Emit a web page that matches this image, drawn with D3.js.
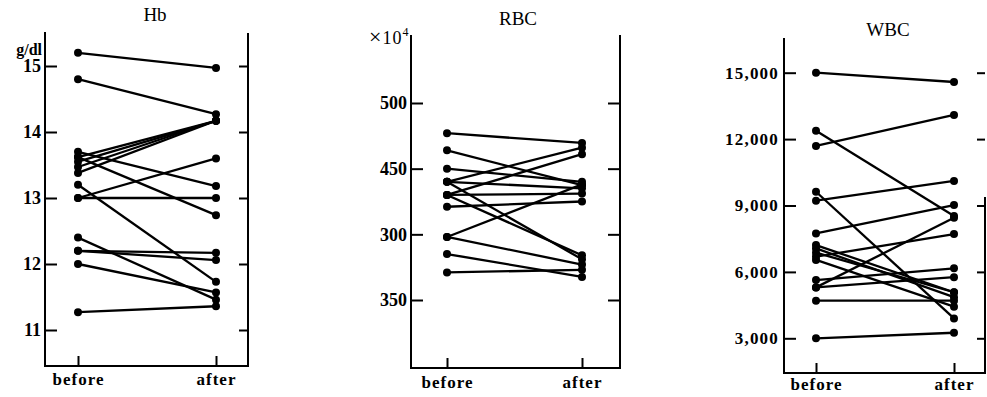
<!DOCTYPE html>
<html>
<head>
<meta charset="utf-8">
<script src="https://cdn.jsdelivr.net/npm/d3@7"></script>
<style>
  html, body { margin: 0; padding: 0; background: #fff; }
  svg { display: block; }
  text { font-family: "Liberation Serif", "DejaVu Serif", serif; fill: #000; }
</style>
</head>
<body>
<svg id="chart" width="987" height="397"></svg>
<script>
// ---------- DATA ----------
const groups = ["before", "after"];

// Hb (g/dl), paired by subject
const hbBefore = [15.2, 14.8, 13.62, 13.55, 13.47, 13.38, 13.7, 13.62, 13.2, 13.0, 13.0, 12.4, 12.2, 12.2, 12.0, 11.27];
const hbAfter  = [14.97, 14.27, 14.17, 14.17, 14.17, 14.17, 13.18, 12.74, 11.73, 13.6, 13.0, 11.46, 12.17, 12.06, 11.57, 11.36];
const hbTicks = [15, 14, 13, 12, 11];
const hbTickLabels = ["15", "14", "13", "12", "11"];

// RBC (x10^4), paired by subject
const rbcBefore = [477, 464, 450, 440, 440, 440, 430, 430, 430, 421, 398, 398, 385, 371];
const rbcAfter  = [469.6, 437.4, 440, 466, 435, 381, 461, 431, 384, 425, 438, 377, 367.6, 373];
const rbcTicks = [500, 450, 400, 350];
const rbcTickLabels = ["500", "450", "300", "350"];

// WBC, paired by subject
const wbcBefore = [15000, 12380, 11690, 9620, 9220, 7740, 7210, 7060, 6870, 6690, 6540, 5630, 5300, 5300, 4700, 3000];
const wbcAfter  = [14580, 8530, 13090, 3900, 10110, 9020, 5080, 4860, 5080, 7710, 4430, 6160, 8450, 5760, 4700, 3250];
const wbcTicks = [15000, 12000, 9000, 6000, 3000];
const wbcTickLabels = ["15,000", "12,000", "9,000", "6,000", "3,000"];

// ---------- LAYOUT ----------
const svg = d3.select("#chart");

function panel(cfg) {
  const g = svg.append("g");
  const x = d3.scalePoint().domain(groups).range([cfg.xBefore, cfg.xAfter]);
  const y = d3.scaleLinear().domain(cfg.domain).range(cfg.yRange);

  // frame lines
  g.append("line").attr("x1", cfg.left).attr("x2", cfg.left).attr("y1", cfg.top).attr("y2", cfg.bottom)
    .attr("stroke", "#000").attr("stroke-width", 2);
  g.append("line").attr("x1", cfg.left - 1).attr("x2", cfg.right + 1).attr("y1", cfg.bottom).attr("y2", cfg.bottom)
    .attr("stroke", "#000").attr("stroke-width", 2);
  g.append("line").attr("x1", cfg.right).attr("x2", cfg.right).attr("y1", cfg.rightTop).attr("y2", cfg.bottom)
    .attr("stroke", "#000").attr("stroke-width", 2);

  // left axis (ticks pointing inward)
  const la = g.append("g").attr("transform", `translate(${cfg.left},0)`)
    .call(d3.axisLeft(y).tickValues(cfg.ticks).tickFormat((d, i) => cfg.tickLabels[i])
      .tickSizeInner(-12).tickSizeOuter(0).tickPadding(cfg.labelPad));
  la.select(".domain").remove();
  la.selectAll(".tick line").attr("stroke", "#000").attr("stroke-width", 2);
  la.selectAll(".tick text").attr("font-family", "Liberation Serif, serif")
    .attr("font-size", cfg.tickFont).attr("font-weight", cfg.tickWeight)
    .attr("letter-spacing", cfg.letterSpacing || 0).attr("fill", "#000");

  // right axis ticks (inward)
  const ra = g.append("g").attr("transform", `translate(${cfg.right},0)`)
    .call(d3.axisLeft(y).tickValues(cfg.ticks).tickFormat("").tickSizeInner(cfg.rightTick).tickSizeOuter(0));
  ra.select(".domain").remove();
  ra.selectAll(".tick line").attr("stroke", "#000").attr("stroke-width", 2);

  // bottom axis
  const ba = g.append("g").attr("transform", `translate(0,${cfg.bottom})`)
    .call(d3.axisBottom(x).tickSizeInner(-10).tickSizeOuter(0).tickPadding(cfg.bottomPad));
  ba.select(".domain").remove();
  ba.selectAll(".tick line").attr("stroke", "#000").attr("stroke-width", 2);
  ba.selectAll(".tick text").attr("font-family", "Liberation Serif, serif")
    .attr("font-size", 17).attr("font-weight", "bold").attr("letter-spacing", 1).attr("fill", "#000");

  // lines + dots
  const pairs = cfg.before.map((b, i) => ({ b, a: cfg.after[i] }));
  g.append("g").selectAll("line").data(pairs).join("line")
    .attr("x1", x("before")).attr("x2", x("after"))
    .attr("y1", d => y(d.b)).attr("y2", d => y(d.a))
    .attr("stroke", "#000").attr("stroke-width", 2.3);
  const dots = [];
  pairs.forEach(p => { dots.push({ g: "before", v: p.b }); dots.push({ g: "after", v: p.a }); });
  g.append("g").selectAll("circle").data(dots).join("circle")
    .attr("cx", d => x(d.g)).attr("cy", d => y(d.v)).attr("r", 4).attr("fill", "#000");

  // title
  g.append("text").attr("x", cfg.titleX).attr("y", cfg.titleY).attr("text-anchor", "middle")
    .attr("font-size", 19).text(cfg.title);
  return g;
}

panel({
  title: "Hb", titleX: 155, titleY: 21,
  left: 45, right: 248, top: 32, rightTop: 33, bottom: 366,
  xBefore: 78, xAfter: 216,
  domain: [11, 15], yRange: [330, 66],
  ticks: hbTicks, tickLabels: hbTickLabels, tickFont: 18, tickWeight: "bold", labelPad: 4,
  rightTick: 9, bottomPad: 7,
  before: hbBefore, after: hbAfter
});
svg.append("text").attr("x", 42).attr("y", 55).attr("text-anchor", "end")
  .attr("font-size", 16).attr("font-weight", "bold").text("g/dl");

panel({
  title: "RBC", titleX: 518, titleY: 25,
  left: 411, right: 620, top: 35, rightTop: 35, bottom: 368,
  xBefore: 447, xAfter: 582,
  domain: [350, 500], yRange: [300, 103],
  ticks: rbcTicks, tickLabels: rbcTickLabels, tickFont: 18, tickWeight: "bold", labelPad: 4,
  rightTick: 12, bottomPad: 8,
  before: rbcBefore, after: rbcAfter
});
const unit = svg.append("text").attr("x", 369).attr("y", 44).style("font-size", "19px");
unit.append("tspan").style("font-size", "22px").text("×");
unit.append("tspan").attr("dx", 1).style("font-size", "18px").attr("letter-spacing", 1).text("10");
unit.append("tspan").style("font-size", "12px").attr("dy", -8).text("4");

panel({
  title: "WBC", titleX: 888, titleY: 36,
  left: 784, right: 985, top: 38, rightTop: 197, bottom: 373,
  xBefore: 816, xAfter: 954,
  domain: [3000, 15000], yRange: [338.3, 72.7],
  ticks: wbcTicks, tickLabels: wbcTickLabels, tickFont: 17, tickWeight: "bold", labelPad: 5, letterSpacing: 1.2,
  rightTick: 8, bottomPad: 5,
  before: wbcBefore, after: wbcAfter
});
</script>
</body>
</html>
